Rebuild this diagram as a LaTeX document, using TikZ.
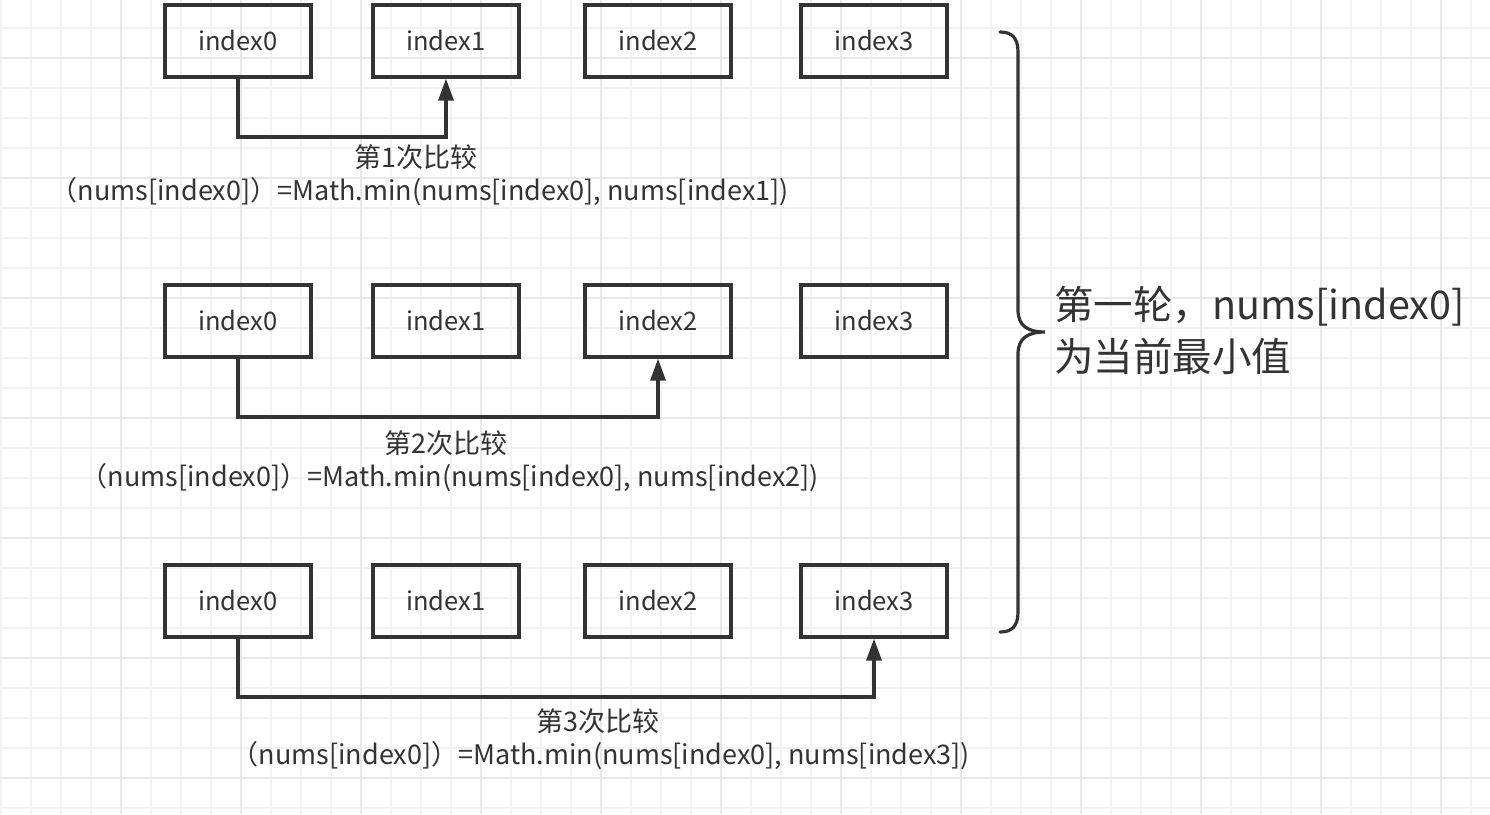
\documentclass[tikz,border=0pt]{standalone}
\usepackage{fontspec}
\setmainfont{Noto Sans CJK SC}
\usetikzlibrary{arrows.meta}
\definecolor{ink}{HTML}{333333}
\definecolor{gridc}{HTML}{F2F2F2}
\definecolor{gridd}{HTML}{E8E8E8}
\tikzset{
  cell/.style={draw=ink, line width=3.2pt, minimum width=146pt, minimum height=72pt, inner sep=0pt, text=ink, font=\fontsize{25.5}{28}\selectfont},
  conn/.style={draw=ink, line width=3.2pt, -{Triangle[length=22pt,width=15pt]}},
  lbl/.style={text=ink, inner sep=0pt, font=\fontsize{27}{30}\selectfont},
  big/.style={text=ink, inner sep=0pt, anchor=west, font=\fontsize{39.5}{44}\selectfont},
}
\begin{document}
\begin{tikzpicture}[x=1pt,y=-1pt]
\useasboundingbox (0,0) rectangle (1490,814);
\fill[white] (0,0) rectangle (1490,814);
\foreach \i in {0,...,49} { \draw[gridc, line width=2pt] (1+30*\i,0) -- (1+30*\i,814); }
\foreach \i in {0,...,27} { \draw[gridc, line width=2pt] (0,-2+30*\i) -- (1490,-2+30*\i); }
\foreach \i in {0,...,12} { \draw[gridd, line width=2pt] (120.5+120*\i,0) -- (120.5+120*\i,814); }
\foreach \i in {0,...,6} { \draw[gridd, line width=2pt] (0,58+120*\i) -- (1490,58+120*\i); }
% row 1
\node[cell] (a0) at (238,41) {index0};
\node[cell] (a1) at (446,41) {index1};
\node[cell] (a2) at (658,41) {index2};
\node[cell] (a3) at (874,41) {index3};
% row 2
\node[cell] (b0) at (238,321) {index0};
\node[cell] (b1) at (446,321) {index1};
\node[cell] (b2) at (658,321) {index2};
\node[cell] (b3) at (874,321) {index3};
% row 3
\node[cell] (c0) at (238,601) {index0};
\node[cell] (c1) at (446,601) {index1};
\node[cell] (c2) at (658,601) {index2};
\node[cell] (c3) at (874,601) {index3};
% connectors
\coordinate (ka) at (238,137);
\coordinate (kb) at (238,417);
\coordinate (kc) at (238,697);
\draw[conn] (a0.south) -- (ka) -| (a1.south);
\draw[conn] (b0.south) -- (kb) -| (b2.south);
\draw[conn] (c0.south) -- (kc) -| (c3.south);
% labels
\node[lbl] (la) at (416,157) {第1次比较};
\node[lbl] (fa) at (420,192) {（nums[index0]）=Math.min(nums[index0], nums[index1])};
\node[lbl] (lb) at (446,443) {第2次比较};
\node[lbl] (fb) at (450,478) {（nums[index0]）=Math.min(nums[index0], nums[index2])};
\node[lbl] (lc) at (598,721) {第3次比较};
\node[lbl] (fc) at (601,756) {（nums[index0]）=Math.min(nums[index0], nums[index3])};
% brace
\draw[ink, line width=3.2pt, line cap=round]
  (1000,32) .. controls (1012,32) and (1018,38) .. (1018,52)
  -- (1018,310) .. controls (1018,326) and (1028,332) .. (1045,332)
  .. controls (1028,332) and (1018,338) .. (1018,354)
  -- (1018,612) .. controls (1018,626) and (1012,632) .. (1000,632);
\node[big] (t1) at (1054,306) {第一轮，nums[index0]};
\node[big] (t2) at (1054,356) {为当前最小值};
\end{tikzpicture}
\end{document}
